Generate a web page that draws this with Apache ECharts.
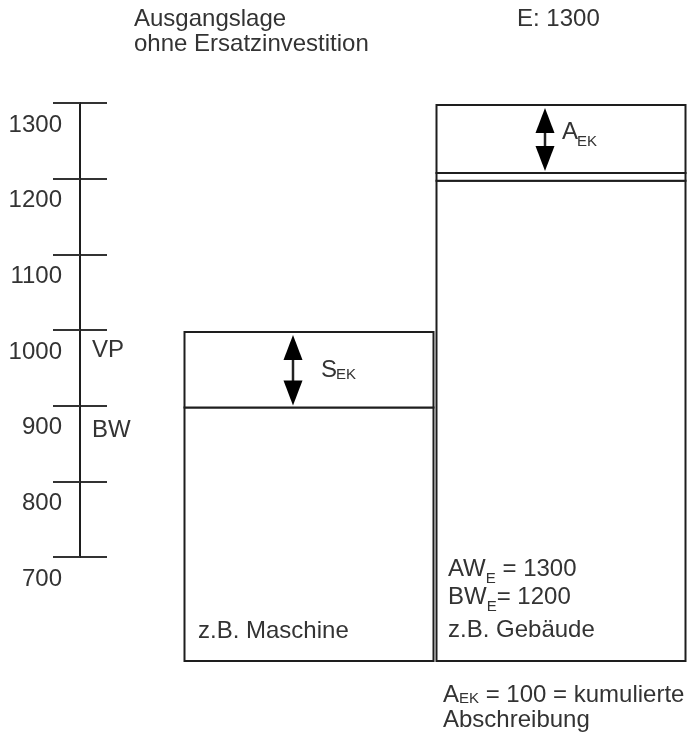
<!DOCTYPE html>
<html><head><meta charset="utf-8">
<script src="https://cdn.jsdelivr.net/npm/echarts@6/dist/echarts.min.js"></script>
<style>html,body{margin:0;padding:0;background:#fff}#c{width:699px;height:739px}</style>
</head><body><div id="c"></div>
<script>
// ---- data ----
const categories = ['z.B. Maschine', 'z.B. Gebäude'];
const tickValues = [700, 800, 900, 1000, 1100, 1200, 1300];
const baseValue = 565;
const maschineLevels = [565, 900, 1000];          // Boden, BW, VP
const gebaeudeLevels = [565, 1200, 1210, 1300];   // Boden, BW_E, Trennlinie, AW_E
const arrowFrom = [1000, 1300];
const arrowTo = [900, 1210];
const arrowMain = ['S', 'A'];
const arrowSub = ['EK', 'EK'];

// ---- helpers ----
const FONT = '"Liberation Sans", Arial, Helvetica, sans-serif';
const TXT = '#333';
const LINE = '#1e1e1e';
const ctx = document.createElement('canvas').getContext('2d');
function tw(t, s) { ctx.font = s + 'px ' + FONT; return ctx.measureText(t).width; }
function pieces(x, y, parts) {
  const out = []; let cx = x;
  parts.forEach(p => {
    out.push({ type: 'text', x: cx, y: y + (p.dy || 0), z: 10,
      style: { text: p.t, fontSize: p.s, fontFamily: FONT, fill: TXT, align: 'left', verticalAlign: 'middle' } });
    cx += tw(p.t, p.s);
  });
  return out;
}

const boxData = [];
[maschineLevels, gebaeudeLevels].forEach((lv, ci) => {
  for (let i = 0; i < lv.length - 1; i++) boxData.push([ci, lv[i], lv[i + 1]]);
});
const arrowData = arrowFrom.map((v, i) => [i, v, arrowTo[i]]);

const labelDx = [28, 17], mainDy = [0, -7], subDy = [5, 2];

const chart = echarts.init(document.getElementById('c'), null, { renderer: 'canvas' });
chart.setOption({
  animation: false,
  backgroundColor: '#fff',
  grid: [
    { left: 183, top: 105, width: 504, height: 556 },
    { left: 80, top: 103, width: 27, height: 454 }
  ],
  xAxis: [
    { type: 'category', data: categories, gridIndex: 0, show: false },
    { type: 'value', gridIndex: 1, show: false, min: 0, max: 1 }
  ],
  yAxis: [
    { type: 'value', gridIndex: 0, min: baseValue, max: tickValues[tickValues.length - 1], show: false },
    { type: 'value', gridIndex: 1, min: tickValues[0], max: tickValues[tickValues.length - 1], interval: 100,
      position: 'left',
      axisLine: { show: true, lineStyle: { color: LINE, width: 2 } },
      axisTick: { show: true, inside: false, length: 27, lineStyle: { color: '#333', width: 2 } },
      splitLine: { show: true, lineStyle: { color: '#333', width: 2 } },
      axisLabel: { show: true, margin: 18, lineHeight: 44, verticalAlign: 'top', fontSize: 24, fontFamily: FONT, color: TXT,
        showMinLabel: true, showMaxLabel: true,
        formatter: v => String(v) } }
  ],
  series: [
    { type: 'custom', xAxisIndex: 0, yAxisIndex: 0, clip: false, data: boxData,
      renderItem: function (params, api) {
        const c = api.value(0), lo = api.value(1), hi = api.value(2);
        const pTop = api.coord([c, hi]), pBot = api.coord([c, lo]);
        const w = api.size([1, 0])[0];
        return { type: 'rect',
          shape: { x: pTop[0] - w / 2 + 1.5, y: pTop[1], width: w - 3, height: pBot[1] - pTop[1] },
          style: { fill: '#fff', stroke: LINE, lineWidth: 2 } };
      } },
    { type: 'custom', xAxisIndex: 0, yAxisIndex: 0, clip: false, data: arrowData, z: 5,
      renderItem: function (params, api) {
        const i = params.dataIndex;
        const c = api.value(0), a = api.value(1), b = api.value(2);
        const pA = api.coord([c, a]), pB = api.coord([c, b]);
        const x = pA[0] - 16;
        const y1 = pA[1] + 3, y2 = pB[1] - 2;
        const hl = 25, hw = 9.5;
        const mid = (y1 + y2) / 2;
        const lx = x + labelDx[i];
        const mw = tw(arrowMain[i], 24);
        return { type: 'group', children: [
          { type: 'line', shape: { x1: x, y1: y1 + hl - 2, x2: x, y2: y2 - hl + 2 }, style: { stroke: '#222', lineWidth: 2.5 } },
          { type: 'polygon', shape: { points: [[x, y1], [x - hw, y1 + hl], [x + hw, y1 + hl]] }, style: { fill: '#000' } },
          { type: 'polygon', shape: { points: [[x, y2], [x - hw, y2 - hl], [x + hw, y2 - hl]] }, style: { fill: '#000' } },
          { type: 'text', x: lx, y: mid + mainDy[i], style: { text: arrowMain[i], fontSize: 24, fontFamily: FONT, fill: TXT, align: 'left', verticalAlign: 'middle' } },
          { type: 'text', x: lx + mw - 1, y: mid + subDy[i], style: { text: arrowSub[i], fontSize: 15, fontFamily: FONT, fill: TXT, align: 'left', verticalAlign: 'middle' } }
        ] };
      } }
  ],
  graphic: [].concat(
    pieces(134, 19.5, [{ t: 'Ausgangslage', s: 24 }]),
    pieces(134, 44.5, [{ t: 'ohne Ersatzinvestition', s: 24 }]),
    pieces(517, 19.5, [{ t: 'E: 1300', s: 24 }]),
    pieces(92, 350, [{ t: 'VP', s: 24 }]),
    pieces(92, 430, [{ t: 'BW', s: 24 }]),
    pieces(448, 569, [{ t: 'AW', s: 24 }, { t: 'E', s: 15, dy: 10 }, { t: ' = 1300', s: 24 }]),
    pieces(448, 597, [{ t: 'BW', s: 24 }, { t: 'E', s: 15, dy: 10 }, { t: '= 1200', s: 24 }]),
    pieces(448, 630, [{ t: categories[1], s: 24 }]),
    pieces(198, 631, [{ t: categories[0], s: 24 }]),
    pieces(443, 695, [{ t: 'A', s: 24 }, { t: 'EK', s: 15, dy: 4 }, { t: ' = 100 = kumulierte', s: 24 }]),
    pieces(443, 720, [{ t: 'Abschreibung', s: 24 }])
  )
});
</script>
</body></html>
